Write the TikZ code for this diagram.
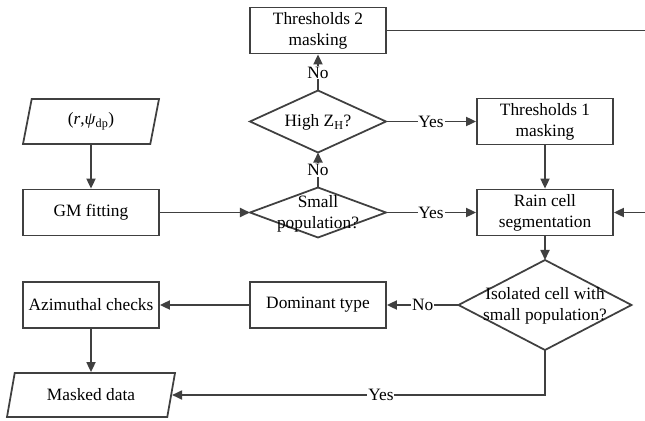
\documentclass[tikz,border=0pt]{standalone}
\usepackage{fontspec}
\setmainfont{Liberation Serif}
\usepackage{xcolor}
\colorlet{colLine}{black!75}
\usepackage{tikz}
\usetikzlibrary{arrows.meta, positioning, shapes.geometric}
\newcommand{\dtext}[1]{\makebox[0pt]{\raisebox{-.3em}[0pt][0pt]{\begin{tabular}{@{}c@{}}#1\end{tabular}}}}
\tikzset{
	procbox/.style={draw=colLine, line width=1.5pt, minimum width=4.08cm, minimum height=1.38cm, align=center, inner sep=1pt},
	decbox/.style={diamond, draw=colLine, line width=1.5pt, inner sep=0pt, outer sep=0pt},
	iobox/.style={trapezium, trapezium stretches body, draw=colLine, line width=1.5pt, inner sep=1pt},
	flowarr/.style={draw=colLine, line width=1.5pt, -{Triangle[length=3mm, width=2.7mm]}},
	flowline/.style={draw=colLine, line width=1.5pt},
	answer/.style={fill=white, inner sep=0.8pt, text=black},
}

\begin{document}
\begin{tikzpicture}[x=0.03cm, y=-0.03cm, font=\fontsize{14.8}{18}\selectfont]
	\useasboundingbox (0,0) rectangle (645,420);
	\node[iobox, minimum width=4.08cm, minimum height=1.35cm, trapezium left angle=66, trapezium right angle=114] (in) at (91,121.5) {(\textit{r},\textit{ψ}\textsubscript{dp})};
	\node[procbox] (gm) at (91,212.5) {GM fitting};
	\node[decbox, minimum width=4.08cm, minimum height=1.5cm] (small) at (318,212.5) {\dtext{Small\\population?}};
	\node[decbox, minimum width=4.08cm, minimum height=1.86cm] (high) at (318,121.5) {\dtext{High Z\textsubscript{H}?}};
	\node[procbox] (th2) at (318,30.5) {Thresholds 2\\masking};
	\node[procbox] (th1) at (545,121.5) {Thresholds 1\\masking};
	\node[procbox] (rain) at (545,212.5) {Rain cell\\segmentation};
	\node[decbox, minimum width=5.19cm, minimum height=2.7cm] (iso) at (545,305) {\dtext{Isolated cell with\\small population?}};
	\node[procbox] (dom) at (318,305) {Dominant type};
	\node[procbox] (azi) at (91,305) {Azimuthal checks};
	\node[iobox, minimum width=5.04cm, minimum height=1.32cm, trapezium left angle=62, trapezium right angle=118] (out) at (91,395) {Masked data};
	\coordinate (loopA) at (645,30.5);
	\coordinate (loopB) at (645,212.5);

	\draw[flowarr] (in) -- (gm);
	\draw[flowarr] (gm) -- (small);
	\draw[flowarr] (small) -- node[answer] {Yes} (rain);
	\draw[flowarr] (small) -- node[answer] {No} (high);
	\draw[flowarr] (high) -- node[answer] {Yes} (th1);
	\draw[flowarr] (high) -- node[answer] {No} (th2);
	\draw[flowarr] (th1) -- (rain);
	\draw[flowarr] (rain) -- (iso);
	\draw[flowarr] (iso) -- node[answer] {No} (dom);
	\draw[flowarr] (dom) -- (azi);
	\draw[flowarr] (azi) -- (out);
	\draw[flowarr] (iso.south) |- node[answer, pos=0.72] {Yes} (out);
	\draw[flowline] (th2) -- (loopA);
	\draw[flowarr] (loopB) -- (rain);
\end{tikzpicture}
\end{document}
